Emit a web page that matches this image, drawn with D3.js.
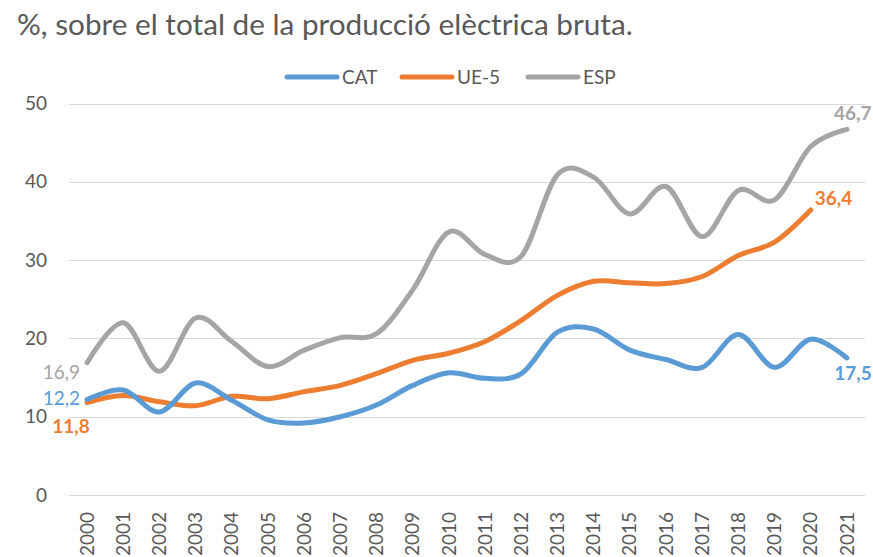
<!DOCTYPE html>
<html><head><meta charset="utf-8">
<script src="https://cdn.jsdelivr.net/npm/d3@7"></script>
<style>body{margin:0;background:#fff}svg{display:block}</style>
</head><body>
<svg id="c" width="873" height="557"></svg>
<script>
const years = ["2000","2001","2002","2003","2004","2005","2006","2007","2008","2009","2010","2011","2012","2013","2014","2015","2016","2017","2018","2019","2020","2021"];
const cat = [12.2,13.4,10.6,14.3,12.1,9.6,9.2,10.0,11.5,14.0,15.6,14.9,15.5,20.8,21.2,18.5,17.3,16.3,20.5,16.3,19.9,17.5];
const ue5 = [11.8,12.7,11.9,11.4,12.6,12.3,13.2,14.0,15.5,17.2,18.1,19.6,22.3,25.5,27.3,27.1,27.0,27.9,30.6,32.3,36.4,null];
const esp = [16.9,22.0,15.8,22.6,19.6,16.4,18.5,20.1,20.6,26.2,33.6,30.7,30.5,40.9,40.6,35.9,39.4,33.0,38.9,37.7,44.5,46.7];
const yTicks = [0,10,20,30,40,50];
const seriesNames = ["CAT","UE-5","ESP"];
const title = "%, sobre el total de la producció elèctrica bruta.";

const colors = {"CAT":"#5B9BD5","UE-5":"#ED7D31","ESP":"#A5A5A5"};
const FONT = "Lato, 'Open Sans', sans-serif";
const svg = d3.select("#c");
const pLeft = 69, pRight = 865, pTop = 103.5, pBottom = 495;

const x = d3.scaleBand().domain(years).range([pLeft, pRight]);
const y = d3.scaleLinear().domain([0, 50]).range([pBottom, pTop]);
const cx = d => x(d) + x.bandwidth() / 2;

// title
const t = svg.append("text").attr("x", 17).attr("y", 35).attr("fill", "#595959")
  .style("font-family", FONT).style("font-size", "24px").text(title);
const w = t.node().getComputedTextLength();
t.style("font-size", (24 * 616 / w) + "px");

// gridlines
svg.append("g").selectAll("line").data(yTicks).join("line")
  .attr("x1", pLeft).attr("x2", pRight)
  .attr("y1", d => Math.round(y(d)) + 0.5).attr("y2", d => Math.round(y(d)) + 0.5)
  .attr("stroke", "#D9D9D9").attr("stroke-width", 1);

// y axis labels
const yAxis = svg.append("g").attr("transform", `translate(${pLeft},0)`)
  .call(d3.axisLeft(y).tickValues(yTicks).tickSize(0).tickPadding(22));
yAxis.select(".domain").remove();
yAxis.selectAll("text").attr("fill", "#595959").style("font-family", FONT).style("font-size", "19px");

// x axis labels
const xAxis = svg.append("g").attr("transform", `translate(0,${pBottom})`)
  .call(d3.axisBottom(x).tickSize(0));
xAxis.select(".domain").remove();
xAxis.selectAll("text").attr("fill", "#595959").style("font-family", FONT).style("font-size", "19px")
  .attr("transform", "rotate(-90)").attr("text-anchor", "end")
  .attr("x", -17).attr("y", 0).attr("dy", "0.35em");

// lines
const line = d3.line()
  .x(d => cx(d[0])).y(d => y(d[1])).curve(d3.curveCardinal.tension(0));
const data = {"CAT": cat, "UE-5": ue5, "ESP": esp};
["ESP","UE-5","CAT"].forEach(name => {
  svg.append("path").datum(years.map((yr, i) => [yr, data[name][i]]).filter(d => d[1] != null))
    .attr("d", line).attr("fill", "none").attr("stroke", colors[name])
    .attr("stroke-width", 5).attr("stroke-linecap", "round").attr("stroke-linejoin", "round");
});

// legend
const legX = [287, 402, 528];
seriesNames.forEach((name, i) => {
  const g = svg.append("g");
  g.append("line").attr("x1", legX[i]).attr("x2", legX[i] + 50).attr("y1", 77).attr("y2", 77)
    .attr("stroke", colors[name]).attr("stroke-width", 5).attr("stroke-linecap", "round");
  g.append("text").attr("x", legX[i] + 55).attr("y", 77).attr("dy", "0.35em")
    .attr("fill", "#595959").style("font-family", FONT).style("font-size", "19px").text(name);
});

// data labels
const fmt = v => String(v.toFixed(1)).replace(".", ",");
const labels = [
  {s: "ESP", i: 0, dx: -7, dy: 10, anchor: "end", bold: false},
  {s: "CAT", i: 0, dx: -7, dy: -1, anchor: "end", bold: false},
  {s: "UE-5", i: 0, dx: -16, dy: 24, anchor: "middle", bold: true},
  {s: "ESP", i: 21, dx: -13, dy: -16, anchor: "start", bold: true},
  {s: "UE-5", i: 20, dx: 4, dy: -12, anchor: "start", bold: true},
  {s: "CAT", i: 21, dx: 6, dy: 15, anchor: "middle", bold: true}
];
labels.forEach(l => {
  const v = data[l.s][l.i];
  svg.append("text").attr("x", cx(years[l.i]) + l.dx).attr("y", y(v) + l.dy).attr("dy", "0.35em")
    .attr("text-anchor", l.anchor).attr("fill", colors[l.s])
    .style("font-family", FONT).style("font-size", "19px").style("font-weight", l.bold ? "bold" : "normal")
    .text(fmt(v));
});
</script>
</body></html>
